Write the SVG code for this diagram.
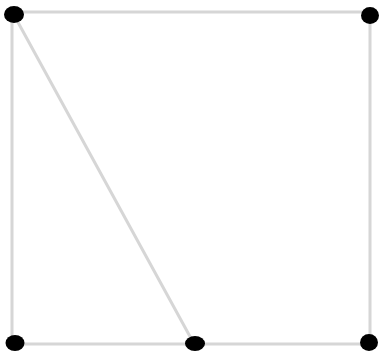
<svg xmlns="http://www.w3.org/2000/svg" width="379" height="352" viewBox="0 0 379 352">
<style>
.edge{stroke:#d6d6d6;stroke-width:3;fill:none;stroke-linecap:round}
.node{fill:#000}
</style>
<rect width="379" height="352" fill="#fff"/>
<g id="edges">
<line class="edge" x1="14" y1="12" x2="370" y2="12"/>
<line class="edge" x1="12" y1="14" x2="12" y2="343"/>
<line class="edge" x1="370" y1="14" x2="370" y2="343"/>
<line class="edge" x1="14" y1="344" x2="369" y2="344"/>
<line class="edge" x1="14" y1="15" x2="193" y2="342"/>
</g>
<g id="n1"><ellipse class="node" cx="14" cy="14.5" rx="10" ry="8.5"/></g>
<g id="n2"><ellipse class="node" cx="370" cy="15.5" rx="9" ry="8.5"/></g>
<g id="n3"><ellipse class="node" cx="15" cy="343" rx="9.5" ry="8"/></g>
<g id="n4"><ellipse class="node" cx="195" cy="343.5" rx="10" ry="7.5"/></g>
<g id="n5"><ellipse class="node" cx="369" cy="342.5" rx="9" ry="8.5"/></g>
</svg>
